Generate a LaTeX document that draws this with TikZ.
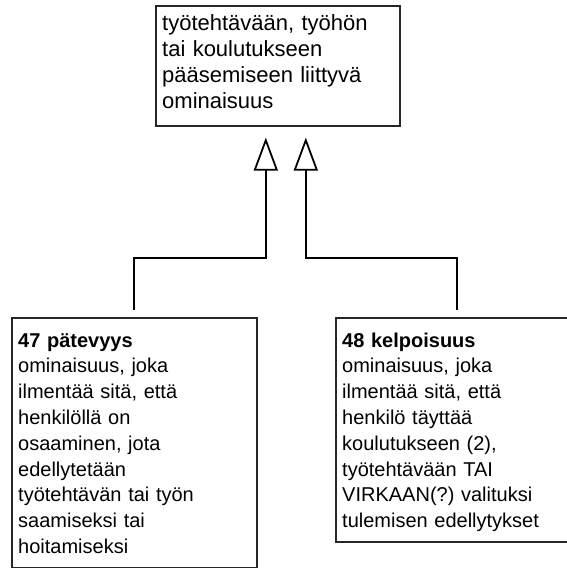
\documentclass[tikz,border=0pt]{standalone}
\usepackage{fontspec}
\setmainfont{Liberation Sans}
\usetikzlibrary{arrows.meta,calc}
\frenchspacing
\tikzset{
  box/.style={draw=black!85, line width=1.6pt, fill=none, inner sep=0pt, anchor=north west},
  txt/.style={inner sep=0pt, anchor=base west, align=left, text width=#1},
  conn/.style={draw=black, line width=1.8pt,
    -{Triangle[open, length=33pt, width=24pt, line width=1.8pt]}},
  bigfont/.style={font=\fontsize{22pt}{26pt}\selectfont},
  smallfont/.style={font=\fontsize{20pt}{25.8pt}\selectfont}
}
\begin{document}
\begin{tikzpicture}[x=1pt,y=1pt]
\useasboundingbox (0,0) rectangle (566,-568);
% boxes
\node[box, minimum width=244pt, minimum height=120pt] (T) at (155,-5) {};
\node[box, minimum width=245pt, minimum height=250pt] (L) at (11,-317) {};
\node[box, minimum width=242pt, minimum height=224pt] (R) at (335,-317) {};
% texts
\node[txt=236pt, bigfont] (Tt) at (162,-30) {työtehtävään, työhön\\tai koulutukseen\\pääsemiseen liittyvä\\ominaisuus};
\node[txt=236pt, smallfont] (Lt) at (18,-347) {\textbf{47 pätevyys}\\ominaisuus, joka\\ilmentää sitä, että\\henkilöllä on\\osaaminen, jota\\edellytetään\\työtehtävän tai työn\\saamiseksi tai\\hoitamiseksi};
\node[txt=236pt, smallfont] (Rt) at (342,-347) {\textbf{48 kelpoisuus}\\ominaisuus, joka\\ilmentää sitä, että\\henkilö täyttää\\koulutukseen (2),\\työtehtävään TAI\\VIRKAAN(?) valituksi\\tulemisen edellytykset};
% connector end points
\coordinate (tl) at ($(T.south)+(-12pt,-11pt)$);
\coordinate (tr) at ($(T.south)+(28pt,-11pt)$);
\draw[conn, shorten <=7pt] (L.north) |- ([yshift=-120pt]tl) -- (tl);
\draw[conn, shorten <=7pt] (R.north) |- ([yshift=-120pt]tr) -- (tr);
\end{tikzpicture}
\end{document}
